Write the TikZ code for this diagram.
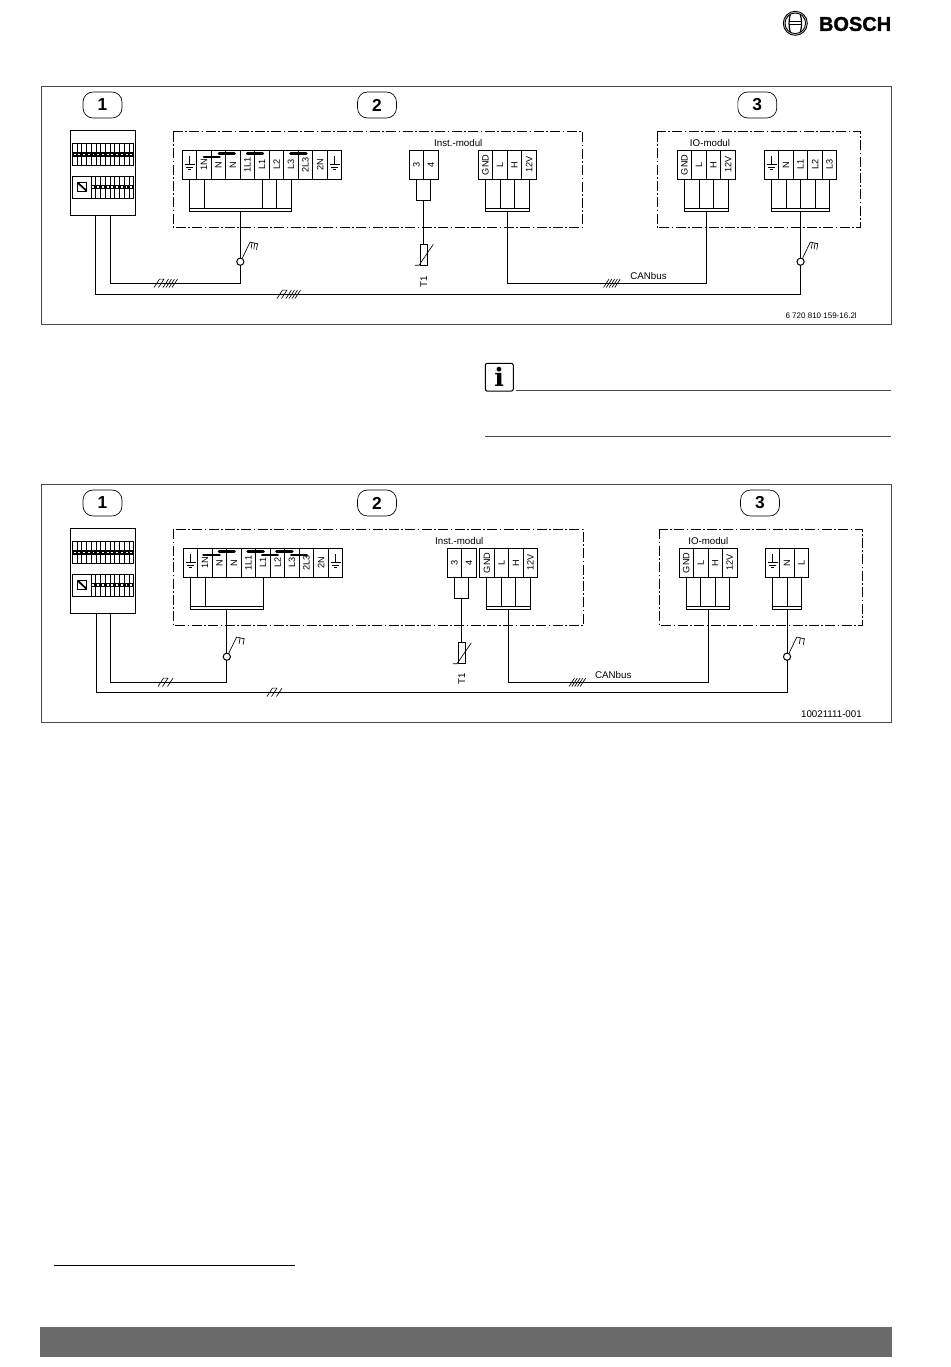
\documentclass[tikz,border=0pt]{standalone}
\usepackage{fontspec}
\setmainfont{Liberation Sans}
\newfontfamily\infofont{DejaVu Serif}
\newfontfamily\brandfont[FakeBold=1.4]{Liberation Sans Bold}
\definecolor{framegray}{HTML}{4A4A4A}
\definecolor{bargray}{HTML}{6A6A6A}
\tikzset{
  wire/.style={line width=0.75pt},
  fine/.style={line width=0.5pt},
  frame/.style={draw=framegray, line width=0.7pt},
  zone/.style={line width=0.6pt, dash pattern=on 7.5pt off 1.8pt on 1.2pt off 1.8pt},
  badge/.style={draw, line width=0.5pt, rounded corners=7.5pt, minimum width=29.2pt, minimum height=19.5pt, inner sep=0pt, font=\fontsize{13}{13}\selectfont\bfseries},
  cell/.style={draw, line width=0.75pt, minimum width=10.875pt, minimum height=21.75pt, inner sep=0pt, outer sep=0pt, font=\fontsize{6.9}{7}\selectfont},
  bus/.style={draw, line width=0.75pt, minimum height=2.4pt, inner sep=0pt, outer sep=0pt},
  plug/.style={draw, line width=0.75pt, minimum width=10.6pt, minimum height=15.75pt, inner sep=0pt, outer sep=0pt},
  sensor/.style={draw, line width=0.75pt, minimum width=5.5pt, minimum height=16pt, inner sep=0pt, outer sep=0pt},
  joint/.style={circle, draw, line width=0.75pt, minimum size=5.4pt, inner sep=0pt, outer sep=0pt},
  cabinet/.style={draw, line width=0.75pt, minimum width=49.2pt, minimum height=63.75pt, inner sep=0pt, outer sep=0pt},
  lbl/.style={inner sep=0pt, font=\fontsize{7.3}{8}\selectfont},
  jumper/.style={line width=2pt, line cap=round}
}
% one row of terminals: name, left edge, mid height, labels
\newcommand{\block}[4]{%
  \foreach \t [count=\i] in {#4}
    \node[cell] (#1\i) at ({#2+(\i-0.5)*14.5},#3) {\rotatebox{90}{\t}};
}
\newcommand{\earth}[1]{%
  \begin{scope}[shift={(#1.center)}]
    \draw[fine] (0,-8.8) -- (0,0) (-5,0) -- (5,0) (-3.3,2.4) -- (3.3,2.4) (-1.7,4.8) -- (1.7,4.8);
  \end{scope}
}
\newcommand{\roofs}[2]{%
  \draw[fine] (#1,#2+4.2) -- ++(5.5,-8.4) -- ++(4.5,0) -- ++(-5.5,8.4);
}
\newcommand{\slashes}[4]{%
  \foreach \i in {1,...,#3}
    \draw[fine] ({#1+(\i-1)*#4},#2+4.2) -- ++(5.5,-8.4);
}
\newcommand{\flagmark}[2]{%
  \draw[fine] (#1.60) -- ++(8,-16.5) coordinate (ft) -- ++(8,1.8);
  \foreach \d in {#2}
    \draw[fine] (ft) ++(\d,\d/4.5) -- ++(-1,6);
}
\newcommand{\cabinetrows}[1]{%
  \begin{scope}[shift={(70,#1)}]
    \foreach \i in {0,...,12} \draw[fine] ({2.3+\i*4.72},13) rectangle ++(4.72,22.4);
    \fill (2.3,22) rectangle (63.7,26.4);
    \foreach \i in {0,...,12} \fill[white] ({3.7+\i*4.72},23.3) rectangle ++(1.9,1.8);
    \draw[fine] (2.3,45.7) rectangle (21,67.7);
    \draw[fine] (7.3,52) rectangle (16.7,60.7);
    \draw[line width=1.3pt] (7.8,52.5) -- (16.2,60.2);
    \foreach \i in {0,...,8} \draw[fine] ({21+\i*4.74},45.7) rectangle ++(4.74,22);
    \fill (21,54.5) rectangle (63.7,58.9);
    \foreach \i in {0,...,8} \fill[white] ({22.4+\i*4.74},55.8) rectangle ++(1.9,1.8);
  \end{scope}
}
\begin{document}
\begin{tikzpicture}[x=0.75pt, y=-0.75pt]
\useasboundingbox (0,0) rectangle (950,1367);
% header
\draw[line width=0.7pt] (795.3,23.3) circle (12) circle (10.3);
\draw[line width=0.9pt] (790.3,14.5) .. controls (788.6,20) and (788.6,27) .. (790.3,32.1);
\draw[line width=0.9pt] (800.3,14.5) .. controls (802,20) and (802,27) .. (800.3,32.1);
\draw[line width=0.7pt] (789,21.8) -- (801.6,21.8) (789,24.8) -- (801.6,24.8);
\node[inner sep=0pt, anchor=west, font=\brandfont\fontsize{15}{15}\selectfont] (brand) at (818.7,24) {BOSCH};

% first panel
\draw[frame] (41,86) rectangle (891,324);
\node[badge] (n1) at (102.5,105) {1};
\node[badge] (n2) at (377,105) {2};
\node[badge] (n3) at (757.3,105) {3};
\node[cabinet] (sw) at (102.9,172.8) {};
\cabinetrows{130.3}
\draw[zone] (173.3,131.7) rectangle (582.3,227.7);
\draw[zone] (657,131.7) rectangle (860.7,227.7);
\node[lbl] (inst) at (458.3,142.7) {Inst.-modul};
\node[lbl] (io) at (710,142.7) {IO-modul};

\block{m}{182.3}{164.8}{,1N,N,N,1L1,L1,L2,L3,2L3,2N,}
\earth{m1}
\earth{m11}
\draw[jumper] (204,157) -- (219.5,157);
\draw[jumper] (219,153.3) -- (234.5,153.3);
\draw[jumper] (247.2,153.3) -- (262.8,153.3);
\draw[jumper] (290.5,153.3) -- (306.2,153.3);
\node[bus] (mbus) at (240.3,210.2) [minimum width=76.1pt] {};
\foreach \c in {1,2,6,7,8} \draw[wire] (m\c.south) -- (m\c.south |- mbus.north);

\block{t}{409.3}{164.8}{3,4}
\node[plug] (tp) at (423.8,189.8) {};
\node[sensor] (th) at (423.8,254.8) {};
\draw[wire] (tp.south) -- (th.north);
\draw[fine] (th.center) ++(-9,10.5) -- ++(4.2,0) -- ++(14.3,-21);
\node[lbl, rotate=90] (t1) at (423.8,281.7) {T1};

\block{g}{478.3}{164.8}{GND,L,H,12V}
\node[bus] (gbus) at (507.3,210.2) [minimum width=32.6pt] {};
\foreach \c in {1,...,4} \draw[wire] (g\c.south) -- (g\c.south |- gbus.north);

\block{i}{677.3}{164.8}{GND,L,H,12V}
\node[bus] (ibus) at (706.3,210.2) [minimum width=32.6pt] {};
\foreach \c in {1,...,4} \draw[wire] (i\c.south) -- (i\c.south |- ibus.north);

\block{p}{764.3}{164.8}{,N,L1,L2,L3}
\earth{p1}
\node[bus] (pbus) at (800.55,210.2) [minimum width=43.5pt] {};
\foreach \c in {1,...,5} \draw[wire] (p\c.south) -- (p\c.south |- pbus.north);

\node[joint] (ja) at (240.3,261.7) {};
\node[joint] (jb) at (800.55,261.7) {};
\flagmark{ja}{2,4.7,7.4}
\flagmark{jb}{2,4.7,7.4}
\coordinate (fa) at (110.3,215.5);
\coordinate (fb) at (95.3,215.5);
\coordinate (ka) at (240.3,283.3);
\coordinate (kb) at (800.55,294.3);
\coordinate (kc) at (706.3,283.3);
\draw[wire] (mbus.south) -- (ja.north);
\draw[wire] (pbus.south) -- (jb.north);
\draw[wire] (fa) |- (ka) -- (ja.south);
\draw[wire] (fb) |- (kb) -- (jb.south);
\draw[wire] (gbus.south) |- (kc) -- (ibus.south);
\roofs{154}{283.3}
\slashes{163}{283.3}{4}{3}
\roofs{277}{294.3}
\slashes{286}{294.3}{4}{3}
\slashes{603.5}{283.3}{5}{2.8}
\node[lbl] (can) at (648.5,276.5) {CANbus};
\node[lbl, anchor=east, font=\fontsize{6}{7}\selectfont] (codea) at (857,316) {6 720 810 159-16.2l};

% note
\node[draw, line width=0.8pt, rounded corners=1.5pt, minimum width=21pt, minimum height=20.8pt, inner sep=0pt] (note) at (499.3,377.2) {};
\node[inner sep=0pt, font=\infofont\fontsize{19}{19}\selectfont\bfseries] (notei) at (note.center) {i};
\draw[frame] (516,390.4) -- (891,390.4);
\draw[frame] (485,436) -- (891,436);

% second panel
\draw[frame] (41,484.3) rectangle (891,722);
\node[badge] (q1) at (102.5,503) {1};
\node[badge] (q2) at (377,503) {2};
\node[badge] (q3) at (760,503) {3};
\node[cabinet, line width=0.9pt] (sy) at (102.9,570.8) {};
\cabinetrows{528.3}
\draw[zone] (173.3,529.3) rectangle (583.3,625.7);
\draw[zone] (659.3,529.3) rectangle (862.3,625.7);
\node[lbl] (inst2) at (459.3,540.7) {Inst.-modul};
\node[lbl] (io2) at (708.3,540.7) {IO-modul};

\block{a}{183.3}{562.8}{,1N,N,N,1L1,L1,L2,L3,2L3,2N,}
\earth{a1}
\earth{a11}
\draw[jumper] (203.5,555) -- (219.5,555);
\draw[jumper] (219,551.3) -- (234.5,551.3);
\draw[jumper] (247.8,551.3) -- (263.5,551.3);
\draw[jumper] (262.2,555) -- (277.8,555);
\draw[jumper] (276.5,551.3) -- (292.2,551.3);
\draw[jumper] (291.2,555) -- (306.8,555);
\node[bus] (abus) at (226.8,608.2) [minimum width=54.4pt] {};
\foreach \c in {1,2,6} \draw[wire] (a\c.south) -- (a\c.south |- abus.north);

\block{u}{447.3}{562.8}{3,4}
\node[plug] (up) at (461.8,587.8) {};
\node[sensor] (uh) at (461.8,653.3) {};
\draw[wire] (up.south) -- (uh.north);
\draw[fine] (uh.center) ++(-9,10.5) -- ++(4.2,0) -- ++(14.3,-21);
\node[lbl, rotate=90] (t2) at (461.8,678.7) {T1};

\block{c}{479.7}{562.8}{GND,L,H,12V}
\node[bus] (cbus) at (508.7,608.2) [minimum width=32.6pt] {};
\foreach \c in {1,...,4} \draw[wire] (c\c.south) -- (c\c.south |- cbus.north);

\block{o}{679}{562.8}{GND,L,H,12V}
\node[bus] (obus) at (708,608.2) [minimum width=32.6pt] {};
\foreach \c in {1,...,4} \draw[wire] (o\c.south) -- (o\c.south |- obus.north);

\block{r}{765.3}{562.8}{,N,L}
\earth{r1}
\node[bus] (rbus) at (787.05,608.2) [minimum width=21.75pt] {};
\foreach \c in {1,2,3} \draw[wire] (r\c.south) -- (r\c.south |- rbus.north);

\node[joint] (jc) at (226.8,656.7) {};
\node[joint] (jd) at (787.05,656.7) {};
\flagmark{jc}{3.5,7.5}
\flagmark{jd}{3.5,7.5}
\coordinate (fc) at (110.3,613.5);
\coordinate (fd) at (96.3,613.5);
\coordinate (kd) at (226.8,682.3);
\coordinate (ke) at (787.05,692.3);
\coordinate (kf) at (708,682.3);
\draw[wire] (abus.south) -- (jc.north);
\draw[wire] (rbus.south) -- (jd.north);
\draw[wire] (fc) |- (kd) -- (jc.south);
\draw[wire] (fd) |- (ke) -- (jd.south);
\draw[wire] (cbus.south) |- (kf) -- (obus.south);
\roofs{158}{682.3}
\slashes{167.5}{682.3}{1}{3}
\roofs{267}{692.3}
\slashes{276.5}{692.3}{1}{3}
\slashes{569}{682.3}{5}{2.8}
\node[lbl] (can2) at (613.3,675.3) {CANbus};
\node[lbl, anchor=east] (codeb) at (862,713.7) {10021111-001};

% footer
\draw[fine] (54,1265) -- (295,1265);
\fill[bargray] (40,1327) rectangle (892,1357);
\end{tikzpicture}
\end{document}
